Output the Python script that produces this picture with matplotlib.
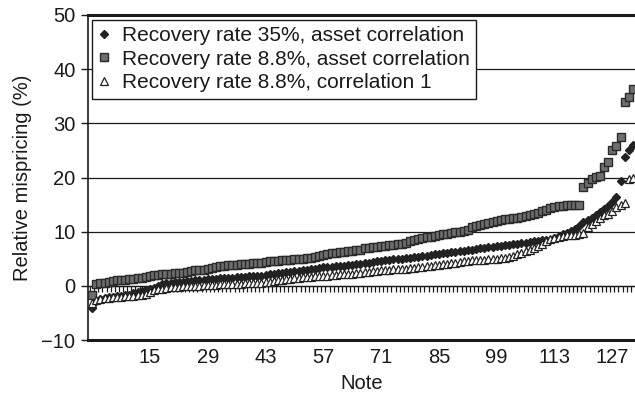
import numpy as np
import matplotlib
matplotlib.use("Agg")
import matplotlib.pyplot as plt

plt.rcParams['font.family'] = ['Liberation Sans', 'DejaVu Sans']

# Relative mispricing (%) per note, notes sorted by mispricing
rr35_asset = [
    -4.0, -2.8, -2.5, -2.3, -2.1, -2.0, -1.9, -1.8, -1.7, -1.6,
    -1.4, -1.2, -1.0, -0.8, -0.6, -0.4, 0.0, 0.3, 0.5, 0.6,
    0.7, 0.8, 0.8, 0.9, 0.9, 1.0, 1.0, 1.1, 1.2, 1.3,
    1.3, 1.4, 1.4, 1.5, 1.5, 1.6, 1.6, 1.7, 1.8, 1.8,
    1.9, 1.9, 2.0, 2.1, 2.2, 2.3, 2.4, 2.5, 2.6, 2.7,
    2.8, 2.9, 3.0, 3.1, 3.2, 3.3, 3.4, 3.5, 3.5, 3.6,
    3.7, 3.7, 3.8, 3.9, 4.0, 4.1, 4.2, 4.3, 4.4, 4.5,
    4.6, 4.7, 4.8, 4.9, 4.9, 5.0, 5.1, 5.2, 5.3, 5.4,
    5.5, 5.6, 5.7, 5.8, 5.9, 6.0, 6.1, 6.2, 6.3, 6.4,
    6.5, 6.6, 6.7, 6.8, 6.9, 7.0, 7.1, 7.2, 7.3, 7.4,
    7.5, 7.6, 7.7, 7.8, 7.9, 8.0, 8.1, 8.2, 8.3, 8.4,
    8.4, 8.5, 8.8, 9.2, 9.5, 9.8, 10.1, 10.5, 11.0, 11.8,
    12.2, 12.6, 13.1, 13.6, 14.2, 14.8, 15.4, 16.4, 19.4, 23.7,
    25.0, 26.0,
]

rr88_asset = [
    -1.6, 0.3, 0.5, 0.6, 0.8, 0.9, 1.0, 1.1, 1.1, 1.2,
    1.2, 1.4, 1.5, 1.7, 1.9, 2.0, 2.0, 2.1, 2.1, 2.2,
    2.3, 2.3, 2.4, 2.6, 2.7, 2.9, 3.0, 3.0, 3.1, 3.3,
    3.5, 3.6, 3.7, 3.8, 3.9, 3.9, 4.0, 4.0, 4.1, 4.2,
    4.2, 4.3, 4.4, 4.5, 4.6, 4.6, 4.7, 4.8, 4.8, 4.9,
    5.0, 5.0, 5.1, 5.2, 5.3, 5.5, 5.7, 5.9, 6.0, 6.1,
    6.2, 6.3, 6.4, 6.5, 6.6, 6.7, 6.9, 7.0, 7.1, 7.2,
    7.3, 7.4, 7.5, 7.6, 7.7, 7.8, 8.0, 8.2, 8.4, 8.6,
    8.8, 9.0, 9.1, 9.2, 9.4, 9.5, 9.6, 9.8, 9.9, 10.0,
    10.1, 10.4, 10.8, 11.0, 11.2, 11.4, 11.6, 11.8, 12.0, 12.1,
    12.3, 12.4, 12.5, 12.6, 12.7, 12.9, 13.1, 13.3, 13.5, 13.8,
    14.0, 14.3, 14.6, 14.7, 14.8, 14.9, 14.9, 15.0, 15.0, 18.2,
    18.9, 19.8, 20.1, 20.2, 21.9, 22.8, 25.0, 25.8, 27.4, 33.9,
    34.8, 36.3,
]

rr88_corr1 = [
    -3.1, -2.6, -2.4, -2.3, -2.2, -2.1, -2.0, -2.0, -1.9, -1.9,
    -1.8, -1.7, -1.6, -1.5, -1.2, -0.8, -0.6, -0.5, -0.4, -0.3,
    -0.3, -0.2, -0.1, -0.1, 0.0, 0.0, 0.0, 0.1, 0.1, 0.2,
    0.2, 0.3, 0.3, 0.3, 0.4, 0.4, 0.4, 0.5, 0.5, 0.5,
    0.6, 0.6, 0.7, 0.8, 0.9, 1.0, 1.1, 1.2, 1.3, 1.4,
    1.5, 1.6, 1.7, 1.7, 1.8, 1.8, 1.9, 1.9, 2.0, 2.0,
    2.1, 2.1, 2.2, 2.2, 2.3, 2.4, 2.5, 2.6, 2.7, 2.8,
    2.9, 3.0, 3.0, 3.1, 3.1, 3.2, 3.2, 3.3, 3.3, 3.4,
    3.5, 3.6, 3.7, 3.8, 3.9, 4.0, 4.1, 4.2, 4.3, 4.4,
    4.5, 4.6, 4.7, 4.7, 4.8, 4.8, 4.9, 4.9, 5.0, 5.1,
    5.2, 5.4, 5.6, 5.8, 6.1, 6.4, 6.7, 7.0, 7.4, 7.8,
    8.2, 8.6, 8.9, 9.1, 9.2, 9.3, 9.3, 9.4, 9.5, 9.7,
    10.8, 11.4, 12.0, 12.5, 13.0, 13.3, 13.9, 14.5, 15.0, 15.3,
    19.8, 20.0,
]

notes = np.arange(1, len(rr35_asset) + 1)
label_ticks = [15, 29, 43, 57, 71, 85, 99, 113, 127]
y_ticks = [-10, 0, 10, 20, 30, 40, 50]

ink = '#1a1a1a'

fig = plt.figure(figsize=(6.35, 3.98), dpi=100)
ax = fig.add_axes([88 / 635, 58 / 398, 547 / 635, 325 / 398])

ax.plot(notes, rr35_asset, linestyle='none', marker='D', markersize=4.5,
        color='#222222', label='Recovery rate 35%, asset correlation', zorder=3)
ax.plot(notes, rr88_asset, linestyle='none', marker='s', markersize=5.2,
        markerfacecolor='#6e6e6e', markeredgecolor='#2a2a2a', markeredgewidth=1.0,
        label='Recovery rate 8.8%, asset correlation', zorder=3)
ax.plot(notes, rr88_corr1, linestyle='none', marker='^', markersize=5.5,
        markerfacecolor='white', markeredgecolor='#222222', markeredgewidth=0.9,
        label='Recovery rate 8.8%, correlation 1', zorder=4)

ax.set_xlim(0, 132.5)
ax.set_ylim(-10, 50)
ax.set_yticks(y_ticks)
ax.set_xticks(label_ticks)
ax.tick_params(axis='x', length=0, pad=6, labelsize=14.5, colors=ink)
ax.tick_params(axis='y', length=5, width=1, pad=4, labelsize=14.5, colors=ink)

ax.grid(axis='y', color=ink, linewidth=0.9)
ax.set_axisbelow(True)

for side in ['top', 'bottom']:
    ax.spines[side].set_linewidth(2.2)
    ax.spines[side].set_color(ink)
ax.spines['left'].set_linewidth(1.2)
ax.spines['left'].set_color(ink)
ax.spines['right'].set_visible(False)

# category axis crossing at zero, tick marks between notes
zero_axis = ax.secondary_xaxis(10 / 60)
zero_axis.set_xticks(np.arange(0.5, len(notes) + 0.5, 1.0))
zero_axis.tick_params(axis='x', length=4, width=0.9, colors=ink, labelbottom=False)
zero_axis.spines['bottom'].set_linewidth(0.9)
zero_axis.spines['bottom'].set_color(ink)

ax.set_xlabel('Note', fontsize=14.5, color=ink, labelpad=5)
ax.set_ylabel('Relative mispricing (%)', fontsize=14.5, color=ink, labelpad=7)

leg = ax.legend(loc='upper left', bbox_to_anchor=(0.007, 0.985), borderaxespad=0,
                fontsize=15, frameon=True, fancybox=False, framealpha=1,
                edgecolor=ink, handlelength=0.6, handletextpad=0.55,
                labelspacing=0.22, borderpad=0.3)
leg.get_frame().set_linewidth(1.0)
for t in leg.get_texts():
    t.set_color(ink)

fig.savefig('out.png', dpi=100)
